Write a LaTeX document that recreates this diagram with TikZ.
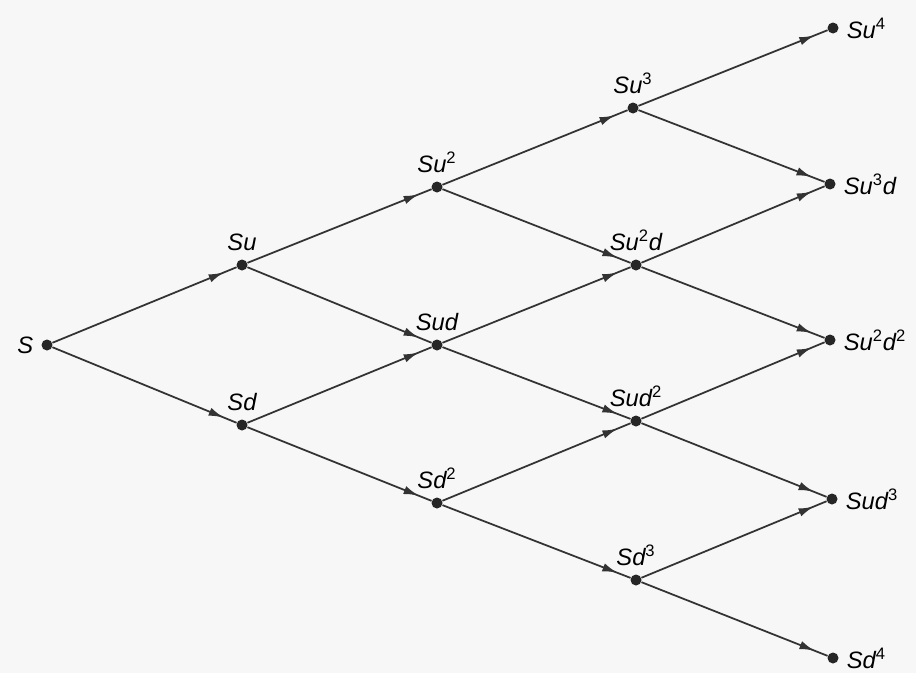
\documentclass[tikz,border=0pt]{standalone}
\usepackage{fontspec}
\setmainfont{Liberation Sans}
\usetikzlibrary{arrows.meta, decorations.markings}
\newcommand{\pw}[1]{\textsuperscript{\upshape #1}}
\begin{document}
\begin{tikzpicture}[x=0.02cm, y=-0.02cm,
    knot/.style={circle, fill=black!85, inner sep=0pt, minimum size=0.22cm},
    branch/.style={line width=1pt, black!80, postaction={decorate},
      decoration={markings, mark=at position 0.93 with {\arrow{Latex[length=0.3cm, width=0.17cm]}}}},
    every label/.style={font=\fontsize{13.5}{15}\selectfont\itshape, label distance=1pt}]

\fill[black!3] (0,0) rectangle (916,673);
\useasboundingbox (0,0) rectangle (916,673);

% root
\node[knot, label={left:S}] (n00) at (47,345) {};

% step 1
\node[knot, label={above:Su}] (n10) at (242,265) {};
\node[knot, label={above:Sd}] (n11) at (242,425) {};

% step 2
\node[knot, label={above:Su\pw{2}}] (n20) at (437,187) {};
\node[knot, label={above:Sud}] (n21) at (437,345) {};
\node[knot, label={above:Sd\pw{2}}] (n22) at (437,503) {};

% step 3
\node[knot, label={above:Su\pw{3}}] (n30) at (633,108) {};
\node[knot, label={above:Su\pw{2}d}] (n31) at (636,265) {};
\node[knot, label={above:Sud\pw{2}}] (n32) at (636,421) {};
\node[knot, label={above:Sd\pw{3}}] (n33) at (636,580) {};

% step 4
\node[knot, label={right:Su\pw{4}}] (n40) at (833,28) {};
\node[knot, label={right:Su\pw{3}d}] (n41) at (830,184) {};
\node[knot, label={right:Su\pw{2}d\pw{2}}] (n42) at (830,340) {};
\node[knot, label={right:Sud\pw{3}}] (n43) at (832,499) {};
\node[knot, label={right:Sd\pw{4}}] (n44) at (833,658) {};

% up and down moves
\foreach \i in {0,...,3} {
  \foreach \j in {0,...,\i} {
    \pgfmathtruncatemacro\k{\i+1}
    \pgfmathtruncatemacro\l{\j+1}
    \draw[branch] (n\i\j) -- (n\k\j);
    \draw[branch] (n\i\j) -- (n\k\l);
  }
}
\end{tikzpicture}
\end{document}
